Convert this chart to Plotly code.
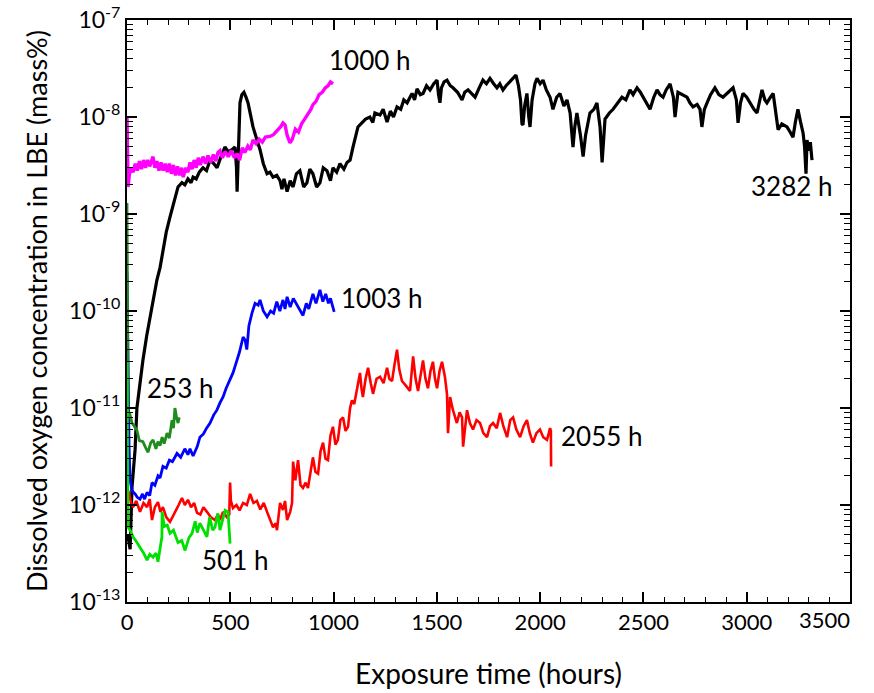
import math
import plotly.graph_objects as go

# ---------------- data (hours, mass%) ----------------
black_pts = [
    (3, 5e-13), (15, 3.5e-13), (24, 1.5e-12), (39, 3.7e-12), (48, 1e-11), (60, 1.7e-11), (77, 3.1e-11),
    (95, 5.5e-11), (111, 8.7e-11), (128, 1.4e-10), (145, 2.1e-10), (160, 2.8e-10), (174, 4.2e-10),
    (190, 6.5e-10), (208, 9.3e-10), (225, 1.3e-9), (247, 1.9e-9), (266, 2.1e-9), (280, 2.0e-9),
    (295, 2.3e-9), (310, 2.1e-9), (320, 2.4e-9), (335, 2.3e-9), (350, 2.7e-9), (368, 3.0e-9),
    (385, 2.8e-9), (402, 3.6e-9), (420, 3.3e-9), (436, 3.0e-9), (455, 3.9e-9), (474, 4.9e-9),
    (490, 4.4e-9), (508, 4.6e-9), (523, 4.9e-9), (530, 3.0e-9), (533, 1.7e-9), (540, 6e-9),
    (547, 1.4e-8), (556, 1.7e-8), (566, 1.8e-8), (576, 1.6e-8), (586, 1.4e-8), (598, 1.05e-8),
    (610, 7.9e-9), (627, 6e-9), (644, 4.6e-9), (660, 3.3e-9), (678, 2.6e-9), (692, 2.7e-9),
    (707, 2.4e-9), (725, 2.5e-9), (741, 2.2e-9), (750, 1.8e-9), (760, 2.3e-9), (775, 1.7e-9),
    (790, 2.2e-9), (804, 1.9e-9), (820, 2.6e-9), (837, 2.8e-9), (855, 1.9e-9), (871, 2.1e-9),
    (885, 2.9e-9), (900, 2.6e-9), (918, 1.9e-9), (934, 2.1e-9), (950, 3.0e-9), (968, 2.8e-9),
    (985, 2.2e-9), (997, 3.0e-9), (1015, 2.7e-9), (1031, 3.3e-9), (1050, 2.9e-9), (1065, 3.4e-9),
    (1080, 3.6e-9), (1094, 4.9e-9), (1105, 6.2e-9), (1118, 7.9e-9), (1137, 8.7e-9), (1155, 9.5e-9),
    (1176, 1.0e-8), (1190, 8.8e-9), (1200, 1.1e-8), (1225, 1.05e-8), (1240, 1.2e-8), (1259, 8.9e-9),
    (1275, 1.15e-8), (1290, 1.0e-8), (1307, 1.27e-8), (1325, 1.2e-8), (1340, 1.5e-8), (1356, 1.4e-8),
    (1370, 1.6e-8), (1380, 1.75e-8), (1392, 1.5e-8), (1404, 1.95e-8), (1420, 1.7e-8), (1433, 1.75e-8),
    (1450, 2.1e-8), (1467, 1.9e-8), (1485, 2.2e-8), (1501, 2.4e-8), (1508, 1.7e-8), (1515, 1.4e-8),
    (1522, 2.0e-8), (1535, 2.3e-8), (1549, 2.4e-8), (1565, 2.1e-8), (1578, 2e-8), (1600, 1.8e-8),
    (1622, 1.5e-8), (1635, 1.8e-8), (1651, 1.9e-8), (1670, 1.7e-8), (1685, 1.6e-8), (1705, 2.0e-8),
    (1723, 2.4e-8), (1740, 2.2e-8), (1757, 2.5e-8), (1775, 2.2e-8), (1791, 2.0e-8), (1805, 2.2e-8),
    (1820, 1.9e-8), (1835, 2.1e-8), (1854, 2.3e-8), (1870, 2.5e-8), (1883, 2.7e-8), (1895, 2.1e-8),
    (1905, 1.5e-8), (1912, 8.5e-9), (1917, 8.3e-9), (1925, 1.3e-8), (1936, 1.75e-8), (1945, 1.0e-8),
    (1951, 7.9e-9), (1961, 1.5e-8), (1975, 2.2e-8), (1985, 2.5e-8), (2000, 2.2e-8), (2014, 2.4e-8),
    (2030, 1.9e-8), (2048, 1.6e-8), (2062, 1.2e-8), (2080, 1.6e-8), (2096, 1.75e-8), (2115, 1.3e-8),
    (2130, 1.5e-8), (2145, 1.1e-8), (2159, 4.9e-9), (2168, 8e-9), (2178, 1.1e-8), (2195, 6.5e-9),
    (2208, 3.9e-9), (2220, 6.5e-9), (2232, 8.7e-9), (2241, 1.1e-8), (2260, 1.2e-8), (2275, 1.4e-8),
    (2290, 7.9e-9), (2300, 3.4e-9), (2314, 9.5e-9), (2335, 1.1e-8), (2353, 1.2e-8), (2375, 1.4e-8),
    (2396, 1.6e-8), (2415, 1.5e-8), (2435, 1.9e-8), (2450, 1.7e-8), (2469, 2.0e-8), (2485, 1.8e-8),
    (2498, 1.6e-8), (2515, 1.4e-8), (2532, 1.2e-8), (2550, 1.6e-8), (2566, 1.9e-8), (2580, 1.7e-8),
    (2595, 1.6e-8), (2610, 1.9e-8), (2629, 2.2e-8), (2645, 1.6e-8), (2653, 1.0e-8), (2667, 1.8e-8),
    (2690, 1.7e-8), (2711, 1.6e-8), (2725, 1.4e-8), (2740, 1.27e-8), (2760, 1.35e-8), (2774, 1.2e-8),
    (2783, 7.9e-9), (2795, 1.2e-8), (2808, 1.4e-8), (2825, 1.7e-8), (2846, 2.0e-8), (2865, 1.7e-8),
    (2885, 1.6e-8), (2910, 1.8e-8), (2934, 2.0e-8), (2950, 1.5e-8), (2958, 8.7e-9), (2970, 1.4e-8),
    (2982, 1.75e-8), (3000, 1.6e-8), (3016, 1.4e-8), (3035, 1.2e-8), (3050, 1.1e-8), (3062, 1.5e-8),
    (3074, 1.9e-8), (3088, 1.5e-8), (3098, 1.4e-8), (3115, 1.6e-8), (3128, 1.75e-8), (3137, 1.27e-8),
    (3152, 7.4e-9), (3170, 8.5e-9), (3195, 7.9e-9), (3210, 7.0e-9), (3224, 6.2e-9), (3236, 9e-9),
    (3248, 1.2e-8), (3260, 9e-9), (3273, 6.8e-9), (3280, 5e-9), (3287, 2.6e-9), (3292, 5.8e-9),
    (3300, 4.5e-9), (3308, 5.5e-9), (3316, 3.6e-9),
]

magenta_pts = [
    (0, 1.0e-8), (2, 3e-9), (5, 1.9e-9), (12, 2.6e-9), (20, 3.0e-9), (30, 2.7e-9), (40, 3.3e-9),
    (50, 2.8e-9), (60, 3.5e-9), (70, 2.9e-9), (80, 3.6e-9), (90, 3.0e-9), (100, 3.6e-9), (110, 3.1e-9),
    (126, 3.9e-9), (135, 3.0e-9), (145, 3.5e-9), (155, 2.8e-9), (165, 3.4e-9), (175, 2.8e-9),
    (185, 3.3e-9), (195, 2.7e-9), (205, 3.3e-9), (215, 2.6e-9), (225, 3.2e-9), (235, 2.5e-9),
    (245, 3.1e-9), (255, 2.5e-9), (265, 3.0e-9), (272, 2.4e-9), (285, 3.0e-9), (295, 2.7e-9),
    (305, 3.4e-9), (315, 2.9e-9), (325, 3.6e-9), (335, 3.0e-9), (345, 3.8e-9), (355, 3.2e-9),
    (368, 3.9e-9), (380, 3.3e-9), (392, 4.0e-9), (405, 3.4e-9), (418, 4.1e-9), (430, 3.5e-9),
    (440, 4.3e-9), (450, 4.5e-9), (462, 3.8e-9), (475, 4.4e-9), (490, 3.9e-9), (505, 4.5e-9),
    (520, 3.8e-9), (533, 4.2e-9), (545, 3.6e-9), (558, 4.8e-9), (570, 4.3e-9), (585, 5.0e-9),
    (597, 4.6e-9), (610, 5.8e-9), (625, 5.3e-9), (640, 5.9e-9), (655, 5.5e-9), (670, 6.2e-9),
    (692, 6.3e-9), (710, 6.6e-9), (730, 7.3e-9), (745, 8.0e-9), (755, 8.7e-9), (765, 8.3e-9),
    (775, 6.5e-9), (789, 5.4e-9), (800, 5.9e-9), (815, 7.5e-9), (830, 7.0e-9), (845, 8.5e-9),
    (860, 9.5e-9), (875, 1.05e-8), (890, 1.2e-8), (901, 1.35e-8), (915, 1.45e-8), (930, 1.7e-8),
    (945, 1.8e-8), (960, 2.0e-8), (973, 2.1e-8), (985, 2.3e-8), (997, 2.2e-8),
]

blue_pts = [
    (0, 2.5e-10), (2, 1.0e-10), (5, 2e-11), (10, 4e-12), (15, 1.8e-12), (25, 1.4e-12), (39, 1.3e-12),
    (50, 1.2e-12), (63, 1.15e-12), (75, 1.3e-12), (85, 1.15e-12), (97, 1.35e-12), (110, 1.25e-12),
    (121, 1.7e-12), (135, 1.6e-12), (150, 2.0e-12), (160, 1.9e-12), (174, 2.5e-12), (190, 2.4e-12),
    (205, 2.9e-12), (220, 2.8e-12), (242, 3.4e-12), (260, 3.1e-12), (280, 3.8e-12), (295, 3.3e-12),
    (305, 3.8e-12), (320, 3.2e-12), (329, 3.5e-12), (340, 4.0e-12), (353, 5.0e-12), (370, 5.4e-12),
    (385, 6.2e-12), (402, 7.0e-12), (420, 8.5e-12), (435, 9.5e-12), (450, 1.13e-11), (465, 1.3e-11),
    (480, 1.6e-11), (497, 1.9e-11), (513, 2.3e-11), (528, 2.9e-11), (545, 3.8e-11), (562, 5.4e-11),
    (572, 5.0e-11), (580, 4.0e-11), (590, 7.0e-11), (605, 9.5e-11), (620, 1.2e-10), (635, 1.15e-10),
    (644, 1.3e-10), (660, 1.0e-10), (678, 0.87e-10), (695, 1.0e-10), (710, 0.95e-10), (725, 1.25e-10),
    (740, 1.0e-10), (755, 1.3e-10), (765, 1.05e-10), (775, 1.4e-10), (790, 1.1e-10), (805, 1.35e-10),
    (823, 1.15e-10), (840, 1.0e-10), (852, 0.9e-10), (868, 1.2e-10), (880, 1.05e-10), (900, 1.5e-10),
    (915, 1.2e-10), (934, 1.65e-10), (948, 1.25e-10), (962, 1.5e-10), (975, 1.2e-10), (985, 1.35e-10),
    (1003, 0.98e-10),
]

dkgreen_pts = [
    (0, 1.3e-9), (2, 5e-11), (5, 8e-12), (12, 9e-12), (24, 7e-12), (35, 6.5e-12), (48, 5.9e-12),
    (60, 4.6e-12), (77, 4.5e-12), (90, 3.9e-12), (102, 3.5e-12), (115, 4.4e-12), (126, 4.7e-12),
    (140, 3.8e-12), (150, 4.5e-12), (160, 4.1e-12), (170, 5.0e-12), (180, 4.3e-12), (194, 5.5e-12),
    (205, 4.9e-12), (218, 7.5e-12), (225, 6.2e-12), (232, 1.0e-11), (240, 8e-12), (247, 7e-12),
    (253, 8e-12),
]

ltgreen_pts = [
    (0, 3e-11), (2, 3e-12), (5, 5.9e-13), (15, 5.5e-13), (29, 4.7e-13), (45, 4.2e-13), (63, 3.7e-13),
    (80, 3.2e-13), (97, 2.7e-13), (110, 3.1e-13), (126, 2.9e-13), (140, 3.2e-13), (150, 2.6e-13),
    (160, 3.6e-13), (169, 4.7e-13), (170, 8.5e-13), (180, 6e-13), (195, 6.2e-13), (208, 5.1e-13),
    (225, 5.5e-13), (247, 4.1e-13), (265, 4.3e-13), (281, 3.4e-13), (300, 4.6e-13), (315, 5.1e-13),
    (330, 6.8e-13), (340, 5.2e-13), (353, 6.5e-13), (370, 5.6e-13), (387, 4.7e-13), (400, 7.5e-13),
    (415, 5.5e-13), (426, 5.9e-13), (440, 8.2e-13), (450, 5.5e-13), (460, 6.5e-13), (475, 8.8e-13),
    (489, 8.5e-13), (495, 5.6e-13), (499, 4e-13),
]

red_pts = [
    (0, 1.5e-12), (10, 1.3e-12), (20, 1.05e-12), (29, 0.95e-12), (45, 1.1e-12), (63, 8.5e-13),
    (80, 1.05e-12), (97, 0.95e-12), (110, 1.15e-12), (121, 7e-13), (135, 9.5e-13), (150, 1.07e-12),
    (162, 8.5e-13), (174, 0.95e-12), (190, 7.5e-13), (208, 6.7e-13), (220, 7.5e-13), (232, 8.3e-13),
    (250, 1.0e-12), (266, 1.18e-12), (280, 1.0e-12), (295, 1.13e-12), (310, 9.5e-13), (325, 1.05e-12),
    (339, 8.3e-13), (355, 8.0e-13), (370, 9.5e-13), (387, 8.5e-13), (405, 7.5e-13), (426, 7e-13),
    (440, 8.0e-13), (450, 7e-13), (465, 8.5e-13), (484, 7.5e-13), (495, 8.0e-13), (499, 1.7e-12),
    (503, 1.1e-12), (513, 9.3e-13), (530, 1.0e-12), (545, 8.8e-13), (562, 1.05e-12), (580, 1.0e-12),
    (596, 1.3e-12), (612, 1.05e-12), (629, 1.1e-12), (645, 0.9e-12), (662, 1.05e-12), (678, 8.5e-13),
    (692, 7.0e-13), (707, 5.9e-13), (720, 6.5e-13), (726, 5.5e-13), (741, 1.05e-12), (755, 8.9e-13),
    (765, 1.1e-12), (775, 7e-13), (790, 8.5e-13), (799, 1.05e-12), (804, 2.8e-12), (815, 1.8e-12),
    (828, 2.9e-12), (840, 1.6e-12), (852, 1.5e-12), (865, 1.7e-12), (876, 1.5e-12), (890, 2.4e-12),
    (900, 3.1e-12), (912, 2.2e-12), (925, 2.1e-12), (937, 3.6e-12), (949, 4.4e-12), (961, 3.0e-12),
    (973, 2.9e-12), (985, 5.2e-12), (997, 6.4e-12), (1009, 4.2e-12), (1021, 4.7e-12), (1033, 7.5e-12),
    (1046, 8e-12), (1058, 5.8e-12), (1070, 6.4e-12), (1080, 1.0e-11), (1089, 1.2e-11), (1100, 1.1e-11),
    (1113, 1.5e-11), (1120, 1.9e-11), (1128, 2.3e-11), (1135, 1.6e-11), (1142, 1.3e-11), (1155, 2.0e-11),
    (1167, 2.6e-11), (1180, 1.8e-11), (1191, 1.4e-11), (1208, 2.0e-11), (1225, 2.1e-11), (1242, 1.8e-11),
    (1259, 2.6e-11), (1270, 2.0e-11), (1283, 1.9e-11), (1295, 2.8e-11), (1307, 4e-11), (1318, 2.5e-11),
    (1331, 1.9e-11), (1350, 1.7e-11), (1370, 1.5e-11), (1385, 3.4e-11), (1397, 2.0e-11), (1409, 1.5e-11),
    (1421, 2.2e-11), (1433, 3.1e-11), (1445, 2.0e-11), (1457, 1.6e-11), (1469, 2.4e-11), (1481, 3e-11),
    (1491, 2.0e-11), (1501, 1.6e-11), (1513, 2.4e-11), (1525, 3e-11), (1539, 2.1e-11), (1549, 1.4e-11),
    (1554, 5.5e-12), (1564, 1.3e-11), (1578, 9.5e-12), (1597, 7e-12), (1610, 9e-12), (1622, 8e-12),
    (1627, 4e-12), (1637, 7e-12), (1646, 9.5e-12), (1660, 7e-12), (1675, 6e-12), (1692, 7.5e-12),
    (1709, 7e-12), (1725, 5.5e-12), (1743, 5e-12), (1757, 6.5e-12), (1772, 7e-12), (1790, 6.2e-12),
    (1806, 8.9e-12), (1822, 6.5e-12), (1840, 5e-12), (1855, 7.5e-12), (1869, 8e-12), (1885, 6e-12),
    (1903, 5e-12), (1920, 6.5e-12), (1936, 7.5e-12), (1950, 5.5e-12), (1965, 4.4e-12), (1982, 5.5e-12),
    (1999, 6e-12), (2015, 5e-12), (2033, 4.7e-12), (2042, 5.5e-12), (2048, 6.2e-12), (2052, 5.8e-12),
    (2053, 2.5e-12),
]

# labels: (text, hours, value)
labels = [
    ("1000 h", 983, 3.9e-8),
    ("3282 h", 3026, 1.95e-9),
    ("1003 h", 1041, 1.35e-10),
    ("253 h", 102, 1.6e-11),
    ("2055 h", 2106, 5.2e-12),
    ("501 h", 368, 2.7e-13),
]

x_ticks = [0, 500, 1000, 1500, 2000, 2500, 3000, 3500]
x_tick_text = ["0", "500", "1000", "1500", "2000", "2500", "3000", ""]
last_x_label = "3500"
y_exps = [-13, -12, -11, -10, -9, -8, -7]

series = [
    (black_pts, "#000000", 3.2),
    (magenta_pts, "#ff00ff", 3.4),
    (red_pts, "#ff0000", 2.6),
    (blue_pts, "#0000ff", 2.8),
    (dkgreen_pts, "#1e8c1e", 2.8),
    (ltgreen_pts, "#00e000", 2.8),
]

FONT = "Lato"
fig = go.Figure()
for pts, col, w in series:
    xs = [p[0] for p in pts]
    ys = [p[1] for p in pts]
    fig.add_trace(go.Scatter(x=xs, y=ys, mode="lines", line=dict(color=col, width=w),
                             showlegend=False, hoverinfo="skip"))

for txt, xh, yv in labels:
    fig.add_annotation(x=xh, y=math.log10(yv), xref="x", yref="y", text=txt, showarrow=False,
                       xanchor="left", yanchor="middle", xshift=-3,
                       font=dict(family=FONT, size=26, color="black"))

# last x tick label, kept inside the page (right-aligned on its tick)
fig.add_annotation(x=x_ticks[-1], y=0, xref="x", yref="paper", text=last_x_label, showarrow=False,
                   xanchor="right", yanchor="top", xshift=2, yshift=-2,
                   font=dict(family=FONT, size=22, color="black"))

y_vals = [10.0 ** e for e in y_exps]
y_text = ["10<sup>%d</sup>" % e for e in y_exps]
y_minor = [m * 10.0 ** e for e in y_exps[:-1] for m in range(2, 10)]

fig.update_layout(
    width=874, height=693,
    margin=dict(l=127, r=24, t=20, b=91, autoexpand=False),
    paper_bgcolor="white", plot_bgcolor="white",
    font=dict(family=FONT, size=22, color="black"),
)
fig.update_xaxes(
    range=[0, 3500], tickmode="array", tickvals=x_ticks, ticktext=x_tick_text, automargin=False,
    ticks="inside", ticklen=10, tickwidth=1.5, tickcolor="black",
    showline=True, linecolor="black", linewidth=2, mirror="allticks",
    showgrid=False, zeroline=False,
    minor=dict(dtick=100, ticks="inside", ticklen=5, tickwidth=1.2, tickcolor="black", showgrid=False),
    tickfont=dict(family=FONT, size=22),
    title=dict(text="Exposure time (hours)", font=dict(family=FONT, size=28), standoff=30),
)
fig.update_yaxes(
    type="log", range=[-13, -7], tickmode="array", tickvals=y_vals, ticktext=y_text,
    ticklabeloverflow="allow", automargin=False,
    ticks="inside", ticklen=10, tickwidth=1.5, tickcolor="black",
    showline=True, linecolor="black", linewidth=2, mirror="allticks",
    showgrid=False, zeroline=False,
    minor=dict(tickmode="array", tickvals=y_minor, ticks="inside", ticklen=6, tickwidth=1.2,
               tickcolor="black", showgrid=False),
    tickfont=dict(family=FONT, size=23),
    title=dict(text="Dissolved oxygen concentration in LBE (mass%)", font=dict(family=FONT, size=27), standoff=14),
)

fig.write_html("out.html")
